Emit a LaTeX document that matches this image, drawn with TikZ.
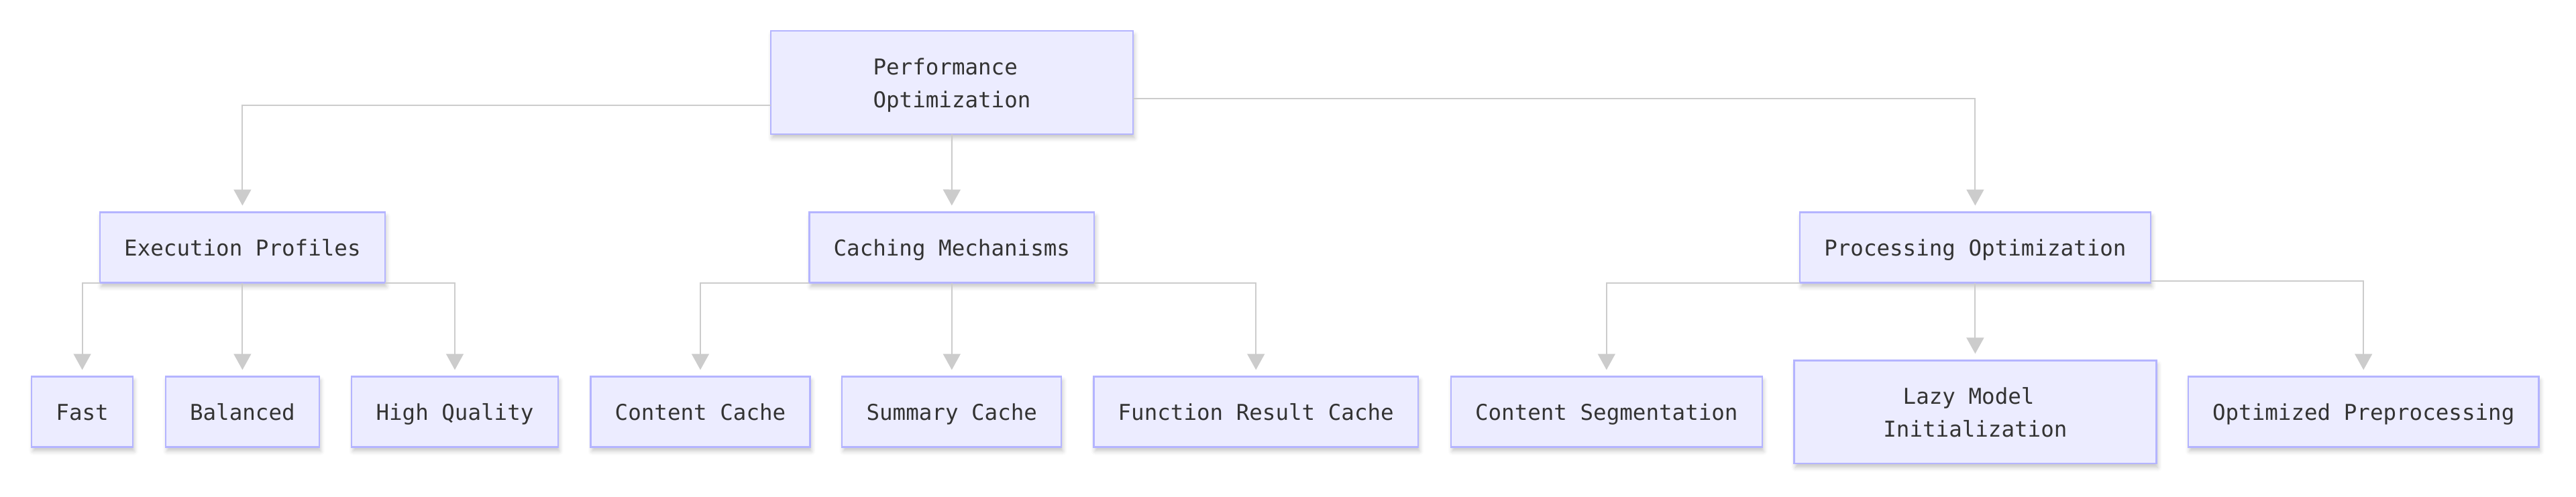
\documentclass[tikz,border=0pt]{standalone}
\usepackage{fontspec}
\newfontfamily\monof{DejaVu Sans Mono}
\usetikzlibrary{arrows.meta,shadows.blur}
\definecolor{boxfill}{HTML}{ECECFF}
\definecolor{boxline}{HTML}{B4B4FF}
\definecolor{edgecol}{HTML}{CCCCCC}
\definecolor{txtcol}{HTML}{333333}
\newcommand{\ls}{\vrule width 0pt height 16.6pt depth 4pt}
\begin{document}
\begin{tikzpicture}[x=1pt,y=1pt,
  box/.style={draw=boxline, line width=1.1pt, fill=boxfill, text=txtcol,
    font=\monof\fontsize{16.26}{24.5}\selectfont, inner xsep=18.1pt, inner ysep=0pt,
    minimum height=52.5pt, outer sep=0pt, align=center,
    blur shadow={shadow xshift=1pt, shadow yshift=-3pt, shadow blur radius=3pt, shadow opacity=22}},
  tallbox/.style={box, minimum width=270pt, minimum height=76.8pt},
  edge/.style={draw=edgecol, line width=1pt, -{Triangle[length=12pt,width=13pt]}}]
\useasboundingbox (0,0) rectangle (1920,-370);
% nodes
\node[tallbox] (root) at (709.5,-61.5) {\ls Performance\hphantom{x}\\\ls Optimization};
\node[box] (exec) at (180.7,-184.5) {\ls Execution Profiles};
\node[box] (cach) at (709.4,-184.5) {\ls Caching Mechanisms};
\node[box] (proc) at (1472.2,-184.5) {\ls Processing Optimization};
\node[box] (fast) at (61.3,-307) {\ls Fast};
\node[box] (bal) at (180.7,-307) {\ls Balanced};
\node[box] (hq) at (339,-307) {\ls High Quality};
\node[box] (cc) at (522,-307) {\ls Content Cache};
\node[box] (sc) at (709.4,-307) {\ls Summary Cache};
\node[box] (frc) at (936.1,-307) {\ls Function Result Cache};
\node[box] (cs) at (1197.4,-307) {\ls Content Segmentation};
\node[tallbox] (lazy) at (1472.2,-307.1) {\ls Lazy Model\hphantom{x}\\\ls Initialization};
\node[box] (op) at (1761.6,-307) {\ls Optimized Preprocessing};
% connectors
\draw[edge] ([yshift=-17.2pt]root.west) -| ([yshift=5pt]exec.north);
\draw[edge] (root.south) -- ([yshift=5pt]cach.north);
\draw[edge] ([yshift=-12pt]root.east) -| ([yshift=5pt]proc.north);
\draw[edge] (exec.south west) -| ([yshift=5pt]fast.north);
\draw[edge] (exec.south) -- ([yshift=5pt]bal.north);
\draw[edge] (exec.south east) -| ([yshift=5pt]hq.north);
\draw[edge] (cach.south west) -| ([yshift=5pt]cc.north);
\draw[edge] (cach.south) -- ([yshift=5pt]sc.north);
\draw[edge] (cach.south east) -| ([yshift=5pt]frc.north);
\draw[edge] (proc.south west) -| ([yshift=5pt]cs.north);
\draw[edge] (proc.south) -- ([yshift=5pt]lazy.north);
\draw[edge] ([yshift=1.5pt]proc.south east) -| ([yshift=5pt]op.north);
\end{tikzpicture}
\end{document}
